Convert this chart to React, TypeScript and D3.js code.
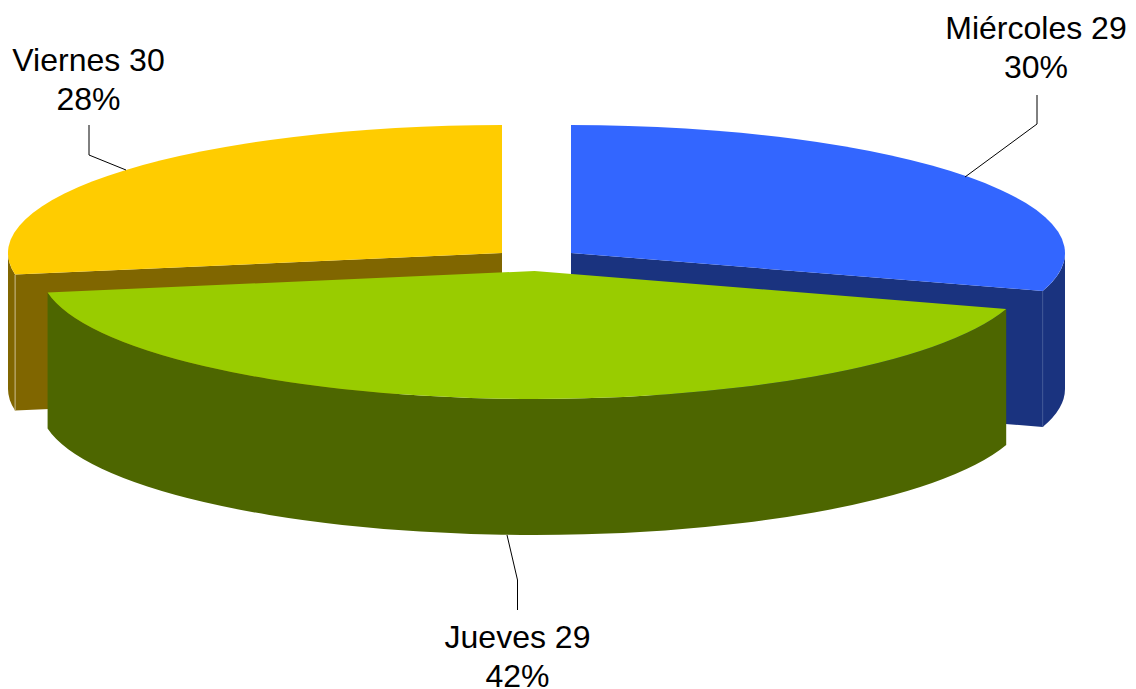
import React from "react";
import * as d3 from "d3";

const names = ["Miércoles 29", "Jueves 29", "Viernes 30"];
const percentLabels = ["30%", "42%", "28%"];
const values = [29.8, 42.5, 27.7];
const topColors = ["#3366FF", "#99CC00", "#FFCC00"];
const sideColors = ["#1A337F", "#4D6600", "#806600"];
const edgeColors = ["#3A5294", "#66791F", "#C9BB8A"];
const centers: [number, number][] = [[571, 253], [534.5, 271], [502, 253]];
const labelPos: [number, number][] = [[1036, 38.5], [517.5, 647.5], [88.5, 70.5]];
const leaders: [number, number][][] = [
  [[965, 177], [1037, 124], [1037, 95]],
  [[507, 535], [517.5, 580], [517.5, 610]],
  [[126, 170], [89, 155], [89, 125]],
];

const RX = 494;
const RY = 128;
const DEPTH = 136;

const arcs = d3.pie<number>().sort(null).value((d) => d)(values);

function pt(c: [number, number], a: number, dy = 0): [number, number] {
  return [c[0] + RX * Math.sin(a), c[1] - RY * Math.cos(a) + dy];
}
function arcTo(c: [number, number], a0: number, a1: number, dy: number) {
  const [x, y] = pt(c, a1, dy);
  const large = Math.abs(a1 - a0) > Math.PI ? 1 : 0;
  const sweep = a1 > a0 ? 1 : 0;
  return `A${RX},${RY} 0 ${large} ${sweep} ${x},${y}`;
}
function topPath(c: [number, number], a0: number, a1: number) {
  const s = pt(c, a0);
  return `M${c[0]},${c[1]}L${s[0]},${s[1]}${arcTo(c, a0, a1, 0)}Z`;
}
function wallPath(c: [number, number], a0: number, a1: number) {
  const s = pt(c, a0);
  const e = pt(c, a1, DEPTH);
  return `M${s[0]},${s[1]}${arcTo(c, a0, a1, 0)}L${e[0]},${e[1]}${arcTo(c, a1, a0, DEPTH)}Z`;
}
function radialPath(c: [number, number], a: number) {
  const p = pt(c, a);
  return `M${c[0]},${c[1]}L${p[0]},${p[1]}L${p[0]},${p[1] + DEPTH}L${c[0]},${c[1] + DEPTH}Z`;
}

export default function App() {
  const half = Math.PI / 2;
  const blue = arcs[0];
  const green = arcs[1];
  const yellow = arcs[2];
  const cornerB = pt(centers[0], blue.endAngle);
  const cornerY = pt(centers[2], yellow.startAngle);
  return (
    <svg width={1136} height={689} style={{ position: "absolute", left: 0, top: 0, background: "#fff" }}>
      {/* yellow slice */}
      <path d={wallPath(centers[2], yellow.startAngle, half * 3)} fill={sideColors[2]} />
      <path d={radialPath(centers[2], yellow.startAngle)} fill={sideColors[2]} />
      <line x1={cornerY[0]} y1={cornerY[1]} x2={cornerY[0]} y2={cornerY[1] + DEPTH} stroke={edgeColors[2]} strokeWidth={1} />
      <path d={topPath(centers[2], yellow.startAngle, yellow.endAngle)} fill={topColors[2]} />
      {/* blue slice */}
      <path d={wallPath(centers[0], half, blue.endAngle)} fill={sideColors[0]} />
      <path d={radialPath(centers[0], blue.endAngle)} fill={sideColors[0]} />
      <line x1={cornerB[0]} y1={cornerB[1]} x2={cornerB[0]} y2={cornerB[1] + DEPTH} stroke={edgeColors[0]} strokeWidth={1} />
      <path d={topPath(centers[0], blue.startAngle, blue.endAngle)} fill={topColors[0]} />
      {/* green slice */}
      <path d={wallPath(centers[1], green.startAngle, green.endAngle)} fill={sideColors[1]} />
      <path d={topPath(centers[1], green.startAngle, green.endAngle)} fill={topColors[1]} />
      {leaders.map((l, i) => (
        <path key={i} d={d3.line()(l) ?? ""} fill="none" stroke="#000" strokeWidth={1} />
      ))}
      {names.map((n, i) => (
        <text key={n} textAnchor="middle" fontFamily="Liberation Sans" fontSize={32} fill="#000">
          <tspan x={labelPos[i][0]} y={labelPos[i][1]}>{n}</tspan>
          <tspan x={labelPos[i][0]} y={labelPos[i][1] + 39}>{percentLabels[i]}</tspan>
        </text>
      ))}
    </svg>
  );
}
